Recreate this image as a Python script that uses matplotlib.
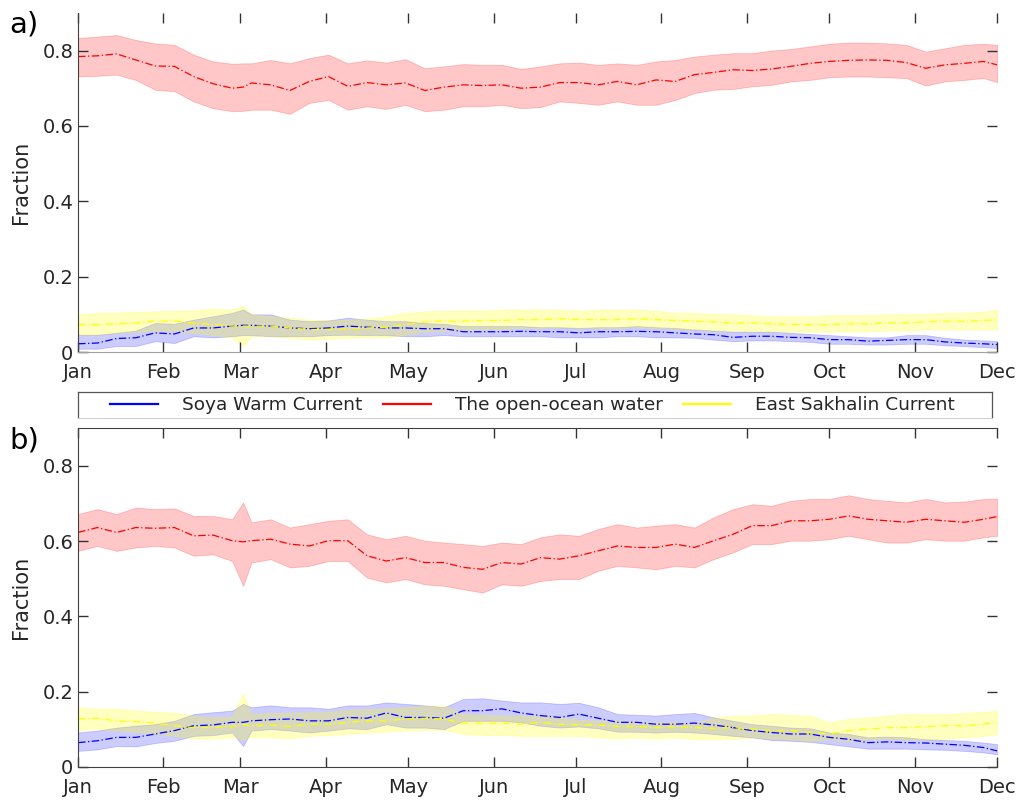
import numpy as np
import matplotlib
matplotlib.use("Agg")
import matplotlib.pyplot as plt
from matplotlib.lines import Line2D

# day of year for each sample, month ticks
days = [0, 7, 14, 21, 28, 35, 42, 49, 56, 60, 63, 70, 77, 84, 91, 98, 105, 112, 119, 126,
        133, 140, 147, 154, 161, 168, 175, 182, 189, 196, 203, 210, 217, 224, 231, 238, 245,
        252, 259, 266, 273, 280, 287, 294, 301, 308, 315, 322, 329, 334]
month_pos = [0, 31, 59, 90, 120, 151, 181, 212, 243, 273, 304, 334]
month_lab = ['Jan', 'Feb', 'Mar', 'Apr', 'May', 'Jun', 'Jul', 'Aug', 'Sep', 'Oct', 'Nov', 'Dec']
legend_names = ['Soya Warm Current', 'The open-ocean water', 'East Sakhalin Current']

# ---- panel a
red_a = [0.784, 0.786, 0.791, 0.775, 0.759, 0.758, 0.731, 0.712, 0.700, 0.703,
         0.714, 0.709, 0.694, 0.718, 0.731, 0.705, 0.715, 0.709, 0.714, 0.694,
         0.703, 0.709, 0.707, 0.709, 0.700, 0.703, 0.715, 0.715, 0.709, 0.718,
         0.709, 0.722, 0.718, 0.736, 0.742, 0.749, 0.747, 0.751, 0.758, 0.766,
         0.771, 0.774, 0.775, 0.774, 0.768, 0.753, 0.762, 0.766, 0.771, 0.762]
red_a_hi = [0.833, 0.837, 0.841, 0.828, 0.819, 0.815, 0.789, 0.771, 0.765, 0.766,
            0.766, 0.775, 0.766, 0.780, 0.789, 0.766, 0.774, 0.768, 0.777, 0.753,
            0.758, 0.764, 0.762, 0.762, 0.751, 0.758, 0.766, 0.768, 0.762, 0.766,
            0.762, 0.771, 0.775, 0.784, 0.789, 0.793, 0.793, 0.800, 0.804, 0.811,
            0.818, 0.821, 0.821, 0.819, 0.815, 0.797, 0.806, 0.815, 0.818, 0.815]
red_a_lo = [0.731, 0.733, 0.736, 0.722, 0.696, 0.692, 0.665, 0.647, 0.639, 0.640,
            0.643, 0.643, 0.632, 0.661, 0.669, 0.643, 0.652, 0.645, 0.656, 0.639,
            0.643, 0.652, 0.652, 0.656, 0.647, 0.650, 0.665, 0.661, 0.656, 0.665,
            0.656, 0.656, 0.669, 0.687, 0.696, 0.698, 0.705, 0.709, 0.718, 0.722,
            0.729, 0.731, 0.731, 0.729, 0.727, 0.707, 0.718, 0.722, 0.727, 0.716]

yel_a = [0.073, 0.073, 0.075, 0.077, 0.082, 0.082, 0.077, 0.073, 0.069, 0.069,
         0.069, 0.069, 0.064, 0.060, 0.060, 0.062, 0.064, 0.066, 0.073, 0.080,
         0.082, 0.082, 0.084, 0.084, 0.086, 0.086, 0.089, 0.086, 0.086, 0.086,
         0.089, 0.086, 0.084, 0.082, 0.080, 0.077, 0.077, 0.075, 0.073, 0.073,
         0.073, 0.075, 0.075, 0.077, 0.077, 0.080, 0.082, 0.082, 0.084, 0.086]
yel_a_hi = [0.100, 0.104, 0.104, 0.107, 0.108, 0.110, 0.110, 0.115, 0.113, 0.122,
            0.100, 0.095, 0.091, 0.086, 0.084, 0.086, 0.089, 0.095, 0.104, 0.108,
            0.110, 0.110, 0.110, 0.113, 0.113, 0.113, 0.113, 0.110, 0.113, 0.113,
            0.113, 0.110, 0.104, 0.104, 0.101, 0.100, 0.098, 0.095, 0.095, 0.095,
            0.098, 0.098, 0.098, 0.100, 0.101, 0.101, 0.104, 0.104, 0.107, 0.112]
yel_a_lo = [0.046, 0.046, 0.051, 0.054, 0.057, 0.057, 0.051, 0.046, 0.038, 0.016,
            0.042, 0.042, 0.038, 0.033, 0.036, 0.038, 0.039, 0.039, 0.046, 0.055,
            0.057, 0.057, 0.060, 0.060, 0.064, 0.064, 0.066, 0.064, 0.064, 0.064,
            0.066, 0.064, 0.062, 0.060, 0.057, 0.057, 0.055, 0.055, 0.054, 0.054,
            0.054, 0.055, 0.055, 0.057, 0.057, 0.060, 0.060, 0.060, 0.060, 0.060]

blu_a = [0.022, 0.024, 0.036, 0.038, 0.051, 0.048, 0.064, 0.064, 0.069, 0.071,
         0.071, 0.069, 0.064, 0.062, 0.064, 0.069, 0.066, 0.064, 0.064, 0.062,
         0.062, 0.054, 0.054, 0.054, 0.055, 0.054, 0.054, 0.051, 0.054, 0.054,
         0.055, 0.054, 0.051, 0.048, 0.046, 0.039, 0.042, 0.042, 0.039, 0.038,
         0.033, 0.033, 0.029, 0.031, 0.033, 0.033, 0.027, 0.024, 0.022, 0.020]
blu_a_hi = [0.046, 0.046, 0.051, 0.057, 0.077, 0.075, 0.086, 0.095, 0.104, 0.113,
            0.100, 0.100, 0.086, 0.082, 0.084, 0.091, 0.086, 0.082, 0.082, 0.077,
            0.075, 0.069, 0.069, 0.069, 0.069, 0.066, 0.066, 0.064, 0.066, 0.066,
            0.069, 0.066, 0.064, 0.060, 0.057, 0.054, 0.054, 0.054, 0.051, 0.048,
            0.045, 0.042, 0.039, 0.039, 0.045, 0.045, 0.038, 0.033, 0.031, 0.029]
blu_a_lo = [0.009, 0.009, 0.016, 0.016, 0.029, 0.024, 0.042, 0.039, 0.042, 0.045,
            0.045, 0.042, 0.042, 0.042, 0.045, 0.046, 0.045, 0.045, 0.042, 0.042,
            0.045, 0.042, 0.042, 0.042, 0.042, 0.042, 0.039, 0.039, 0.039, 0.042,
            0.042, 0.039, 0.039, 0.038, 0.033, 0.029, 0.031, 0.031, 0.029, 0.027,
            0.022, 0.022, 0.020, 0.020, 0.022, 0.022, 0.018, 0.016, 0.013, 0.011]

# ---- panel b
red_b = [0.623, 0.636, 0.623, 0.636, 0.634, 0.636, 0.614, 0.616, 0.601, 0.598,
         0.601, 0.605, 0.592, 0.587, 0.601, 0.601, 0.561, 0.547, 0.556, 0.543,
         0.543, 0.530, 0.525, 0.543, 0.539, 0.556, 0.552, 0.561, 0.574, 0.587,
         0.583, 0.583, 0.592, 0.583, 0.601, 0.618, 0.641, 0.641, 0.654, 0.654,
         0.658, 0.667, 0.658, 0.654, 0.650, 0.658, 0.654, 0.650, 0.658, 0.665]
red_b_hi = [0.672, 0.685, 0.672, 0.689, 0.685, 0.687, 0.667, 0.667, 0.658, 0.703,
            0.650, 0.658, 0.636, 0.645, 0.654, 0.658, 0.618, 0.605, 0.614, 0.601,
            0.596, 0.592, 0.587, 0.596, 0.592, 0.610, 0.618, 0.614, 0.632, 0.645,
            0.636, 0.641, 0.645, 0.636, 0.663, 0.685, 0.698, 0.694, 0.707, 0.712,
            0.712, 0.722, 0.712, 0.707, 0.703, 0.712, 0.703, 0.705, 0.712, 0.713]
red_b_lo = [0.574, 0.587, 0.574, 0.583, 0.587, 0.583, 0.561, 0.565, 0.547, 0.481,
            0.543, 0.552, 0.530, 0.534, 0.547, 0.547, 0.503, 0.490, 0.499, 0.485,
            0.481, 0.472, 0.463, 0.485, 0.481, 0.494, 0.499, 0.499, 0.521, 0.534,
            0.530, 0.525, 0.534, 0.530, 0.552, 0.570, 0.592, 0.592, 0.601, 0.601,
            0.605, 0.614, 0.605, 0.596, 0.596, 0.605, 0.601, 0.601, 0.610, 0.614]

yel_b = [0.127, 0.129, 0.122, 0.120, 0.116, 0.109, 0.104, 0.104, 0.107, 0.113,
         0.109, 0.111, 0.107, 0.113, 0.113, 0.118, 0.122, 0.122, 0.127, 0.129,
         0.127, 0.116, 0.116, 0.116, 0.113, 0.118, 0.113, 0.111, 0.111, 0.107,
         0.107, 0.104, 0.107, 0.104, 0.102, 0.104, 0.100, 0.096, 0.096, 0.091,
         0.087, 0.096, 0.100, 0.104, 0.104, 0.107, 0.109, 0.109, 0.113, 0.118]
yel_b_hi = [0.158, 0.154, 0.154, 0.149, 0.146, 0.143, 0.136, 0.131, 0.134, 0.194,
            0.140, 0.143, 0.143, 0.145, 0.146, 0.152, 0.154, 0.155, 0.158, 0.161,
            0.163, 0.140, 0.138, 0.136, 0.136, 0.136, 0.131, 0.125, 0.122, 0.122,
            0.118, 0.118, 0.118, 0.116, 0.131, 0.136, 0.136, 0.140, 0.138, 0.136,
            0.118, 0.127, 0.131, 0.136, 0.140, 0.140, 0.140, 0.143, 0.146, 0.149]
yel_b_lo = [0.098, 0.100, 0.096, 0.093, 0.089, 0.082, 0.075, 0.075, 0.078, 0.073,
            0.078, 0.078, 0.075, 0.082, 0.084, 0.087, 0.091, 0.093, 0.096, 0.098,
            0.098, 0.087, 0.084, 0.084, 0.082, 0.082, 0.082, 0.082, 0.078, 0.075,
            0.078, 0.075, 0.078, 0.073, 0.073, 0.073, 0.078, 0.075, 0.073, 0.069,
            0.073, 0.069, 0.073, 0.075, 0.073, 0.073, 0.075, 0.078, 0.082, 0.087]

blu_b = [0.064, 0.069, 0.078, 0.078, 0.087, 0.096, 0.109, 0.111, 0.118, 0.118,
         0.122, 0.125, 0.127, 0.122, 0.122, 0.131, 0.129, 0.143, 0.131, 0.131,
         0.129, 0.149, 0.149, 0.154, 0.143, 0.136, 0.131, 0.140, 0.129, 0.118,
         0.118, 0.113, 0.113, 0.116, 0.111, 0.104, 0.096, 0.091, 0.087, 0.087,
         0.078, 0.073, 0.064, 0.066, 0.064, 0.063, 0.060, 0.057, 0.051, 0.042]
blu_b_hi = [0.091, 0.096, 0.104, 0.109, 0.113, 0.122, 0.140, 0.145, 0.149, 0.167,
            0.158, 0.163, 0.158, 0.158, 0.154, 0.163, 0.163, 0.171, 0.167, 0.163,
            0.158, 0.180, 0.182, 0.176, 0.171, 0.171, 0.167, 0.170, 0.158, 0.140,
            0.138, 0.136, 0.140, 0.143, 0.131, 0.122, 0.113, 0.109, 0.104, 0.102,
            0.091, 0.087, 0.078, 0.080, 0.078, 0.073, 0.071, 0.069, 0.064, 0.060]
blu_b_lo = [0.042, 0.046, 0.055, 0.054, 0.063, 0.069, 0.082, 0.084, 0.091, 0.055,
            0.096, 0.100, 0.096, 0.091, 0.096, 0.102, 0.100, 0.113, 0.104, 0.104,
            0.100, 0.122, 0.122, 0.122, 0.118, 0.109, 0.104, 0.107, 0.102, 0.093,
            0.093, 0.091, 0.093, 0.091, 0.087, 0.082, 0.078, 0.071, 0.069, 0.066,
            0.060, 0.054, 0.048, 0.048, 0.048, 0.046, 0.045, 0.042, 0.038, 0.033]

COL_BLUE = '#0000ff'
COL_RED = '#ff0000'
COL_YEL = '#ffff00'
TXT = '#262626'
W, H = 1027.0, 802.0


def draw_panel(ax, series, top_spine):
    # series: list of (mean, lo, hi, color, fill alpha)
    for mean, lo, hi, col, a in series:
        ax.fill_between(days, lo, hi, color=col, alpha=a, lw=0.6,
                        edgecolor=col)
    for mean, lo, hi, col, a in series:
        ax.plot(days, mean, color=col, lw=0.9, ls=(0, (6, 2, 1, 2)))
    ax.set_xlim(0, 334)
    ax.set_ylim(0, 0.9)
    ax.set_xticks(month_pos)
    ax.set_xticklabels(month_lab)
    ax.set_yticks([0, 0.2, 0.4, 0.6, 0.8])
    ax.set_yticklabels(['0', '0.2', '0.4', '0.6', '0.8'])
    ax.tick_params(direction='in', length=7, width=1, top=True, right=True,
                   labelsize=14, colors='#333333', labelcolor=TXT)
    ax.tick_params(axis='x', pad=8)
    ax.spines['right'].set_visible(False)
    ax.spines['top'].set_visible(top_spine)
    for s in ['left', 'bottom', 'top']:
        ax.spines[s].set_color('#404040')
    ax.set_ylabel('Fraction', fontsize=15, color=TXT, labelpad=8)


fig = plt.figure(figsize=(10.27, 8.02), dpi=100)
ax1 = fig.add_axes([0.076, 0.561, 0.895, 0.423])
ax2 = fig.add_axes([0.076, 0.044, 0.895, 0.422])

draw_panel(ax1, [(red_a, red_a_lo, red_a_hi, COL_RED, 0.22),
                 (blu_a, blu_a_lo, blu_a_hi, COL_BLUE, 0.2),
                 (yel_a, yel_a_lo, yel_a_hi, COL_YEL, 0.25)], False)
ax1.spines['bottom'].set_color('#a0a0a0')
draw_panel(ax2, [(red_b, red_b_lo, red_b_hi, COL_RED, 0.22),
                 (blu_b, blu_b_lo, blu_b_hi, COL_BLUE, 0.2),
                 (yel_b, yel_b_lo, yel_b_hi, COL_YEL, 0.25)], True)

fig.text(0.009, 0.970, 'a)', fontsize=21, color='black', va='center')
fig.text(0.009, 0.451, 'b)', fontsize=21, color='black', va='center')

# legend frame between the panels
x0, x1 = 78 / W, 992 / W
y0, y1 = 1 - 418 / H, 1 - 392 / H
fig.add_artist(Line2D([x0, x1], [y1, y1], color='#555555', lw=0.9))
fig.add_artist(Line2D([x0, x0], [y0, y1], color='#555555', lw=0.9))
fig.add_artist(Line2D([x1, x1], [y0, y1], color='#555555', lw=0.9))
fig.add_artist(Line2D([x0, x1], [y0, y0], color='#d0d0d0', lw=0.8))

handles = [Line2D([], [], color=c, lw=1.6) for c in (COL_BLUE, COL_RED, COL_YEL)]
leg = fig.legend(handles, legend_names, loc='center left', ncol=3,
                 bbox_to_anchor=(110 / W, 1 - 405 / H), fontsize=13.3,
                 frameon=False, handlelength=2.6, handletextpad=1.3,
                 columnspacing=1.1, borderpad=0, borderaxespad=0,
                 labelcolor=TXT)

fig.savefig('out.png', dpi=100)
